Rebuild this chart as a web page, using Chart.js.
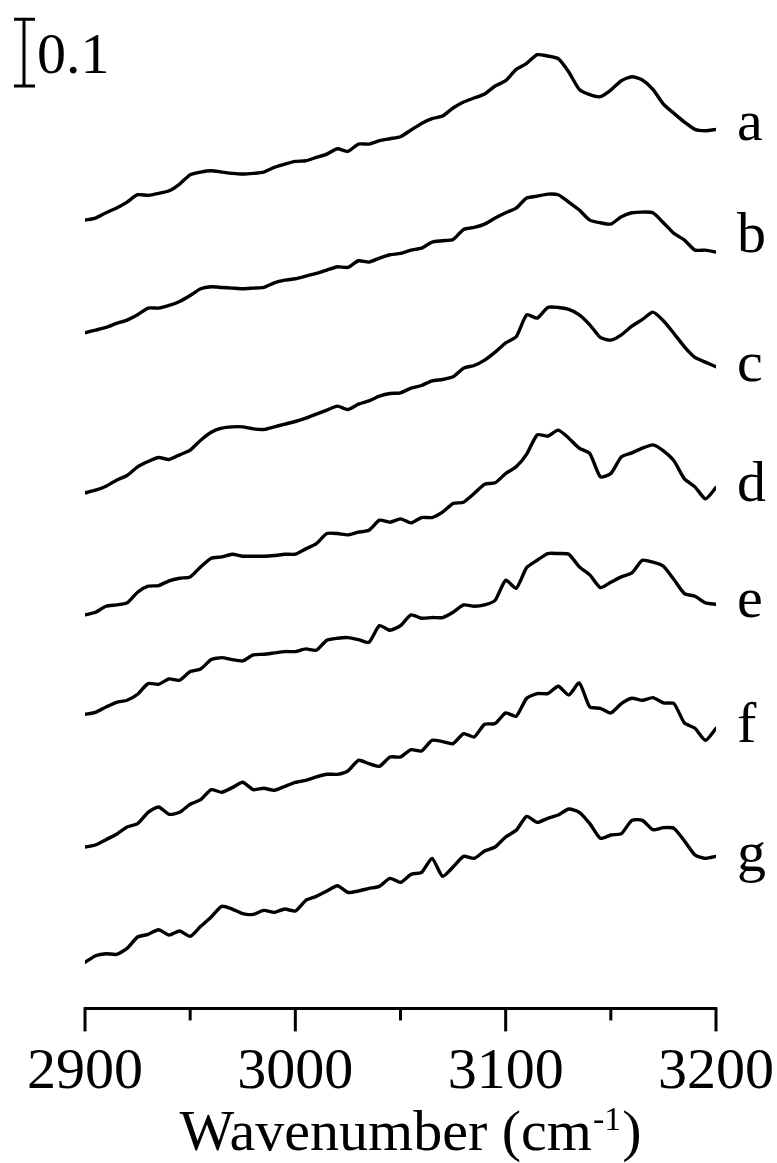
<!DOCTYPE html>
<html>
<head>
<meta charset="utf-8">
<title>Spectres C-H</title>
<script src="https://cdn.jsdelivr.net/npm/chart.js@4.4.1/dist/chart.umd.min.js"></script>
<style>
  html, body { margin: 0; padding: 0; background: #fff; }
  canvas { display: block; }
</style>
</head>
<body>
<canvas id="spectra" width="777" height="1163"></canvas>
<script>
// nombres d'onde (cm-1), un point tous les 5 cm-1
const wavenumbers = [
  2900, 2905, 2910, 2915, 2920, 2925, 2930, 2935, 2940, 2945,
  2950, 2955, 2960, 2965, 2970, 2975, 2980, 2985, 2990, 2995,
  3000, 3005, 3010, 3015, 3020, 3025, 3030, 3035, 3040, 3045,
  3050, 3055, 3060, 3065, 3070, 3075, 3080, 3085, 3090, 3095,
  3100, 3105, 3110, 3115, 3120, 3125, 3130, 3135, 3140, 3145,
  3150, 3155, 3160, 3165, 3170, 3175, 3180, 3185, 3190, 3195,
  3200
];

// absorbance (avec le décalage vertical de chaque spectre)
const specA = [
  1.182, 1.185, 1.193, 1.200, 1.209, 1.220, 1.219, 1.222, 1.226, 1.236,
  1.250, 1.254, 1.256, 1.254, 1.252, 1.251, 1.252, 1.254, 1.261, 1.266,
  1.270, 1.271, 1.276, 1.281, 1.289, 1.285, 1.296, 1.296, 1.301, 1.304,
  1.307, 1.317, 1.327, 1.334, 1.338, 1.350, 1.359, 1.365, 1.371, 1.383,
  1.391, 1.408, 1.417, 1.430, 1.428, 1.424, 1.404, 1.378, 1.370, 1.367,
  1.377, 1.391, 1.397, 1.392, 1.378, 1.356, 1.342, 1.329, 1.318, 1.316,
  1.318
];
const specB = [
  1.013, 1.017, 1.021, 1.027, 1.032, 1.040, 1.050, 1.050, 1.054, 1.060,
  1.069, 1.079, 1.082, 1.081, 1.080, 1.079, 1.080, 1.081, 1.088, 1.092,
  1.094, 1.098, 1.102, 1.107, 1.112, 1.111, 1.121, 1.119, 1.125, 1.130,
  1.132, 1.137, 1.140, 1.149, 1.151, 1.153, 1.168, 1.171, 1.176, 1.185,
  1.193, 1.200, 1.215, 1.218, 1.221, 1.220, 1.209, 1.197, 1.182, 1.178,
  1.176, 1.187, 1.193, 1.194, 1.193, 1.178, 1.162, 1.152, 1.137, 1.137,
  1.134
];
const specC = [
  0.773, 0.777, 0.783, 0.792, 0.799, 0.812, 0.820, 0.826, 0.823, 0.830,
  0.837, 0.852, 0.864, 0.870, 0.872, 0.872, 0.869, 0.868, 0.872, 0.876,
  0.880, 0.885, 0.891, 0.897, 0.903, 0.898, 0.906, 0.911, 0.918, 0.922,
  0.923, 0.930, 0.934, 0.941, 0.943, 0.947, 0.960, 0.964, 0.972, 0.984,
  0.998, 1.007, 1.040, 1.035, 1.051, 1.051, 1.048, 1.040, 1.025, 1.006,
  1.002, 1.010, 1.023, 1.033, 1.044, 1.031, 1.012, 0.992, 0.976, 0.969,
  0.962
];
const specD = [
  0.590, 0.594, 0.603, 0.605, 0.608, 0.624, 0.633, 0.634, 0.641, 0.645,
  0.647, 0.662, 0.675, 0.677, 0.681, 0.678, 0.678, 0.678, 0.679, 0.681,
  0.681, 0.689, 0.697, 0.712, 0.712, 0.710, 0.714, 0.717, 0.732, 0.729,
  0.734, 0.728, 0.736, 0.736, 0.744, 0.757, 0.759, 0.772, 0.786, 0.788,
  0.802, 0.812, 0.831, 0.860, 0.858, 0.867, 0.855, 0.840, 0.832, 0.797,
  0.802, 0.827, 0.833, 0.840, 0.845, 0.836, 0.821, 0.794, 0.782, 0.764,
  0.781
];
const specE = [
  0.441, 0.444, 0.452, 0.459, 0.462, 0.471, 0.487, 0.486, 0.494, 0.492,
  0.505, 0.509, 0.523, 0.526, 0.523, 0.521, 0.530, 0.531, 0.533, 0.535,
  0.535, 0.539, 0.537, 0.552, 0.555, 0.556, 0.553, 0.549, 0.574, 0.567,
  0.574, 0.590, 0.585, 0.586, 0.586, 0.594, 0.605, 0.603, 0.605, 0.612,
  0.642, 0.630, 0.661, 0.672, 0.682, 0.682, 0.681, 0.662, 0.650, 0.631,
  0.639, 0.647, 0.653, 0.672, 0.669, 0.663, 0.643, 0.622, 0.618, 0.608,
  0.606
];
const specF = [
  0.242, 0.245, 0.253, 0.261, 0.272, 0.277, 0.294, 0.302, 0.291, 0.294,
  0.306, 0.313, 0.328, 0.324, 0.331, 0.339, 0.328, 0.330, 0.327, 0.333,
  0.339, 0.342, 0.347, 0.351, 0.351, 0.356, 0.372, 0.367, 0.363, 0.377,
  0.377, 0.388, 0.386, 0.402, 0.400, 0.397, 0.412, 0.407, 0.426, 0.427,
  0.443, 0.438, 0.465, 0.472, 0.472, 0.483, 0.470, 0.488, 0.452, 0.450,
  0.443, 0.457, 0.465, 0.462, 0.466, 0.458, 0.457, 0.428, 0.420, 0.402,
  0.420
];
const specG = [
  0.069, 0.079, 0.082, 0.081, 0.090, 0.107, 0.111, 0.118, 0.110, 0.116,
  0.108, 0.123, 0.137, 0.153, 0.149, 0.142, 0.141, 0.147, 0.144, 0.149,
  0.146, 0.162, 0.168, 0.176, 0.184, 0.174, 0.176, 0.180, 0.183, 0.195,
  0.189, 0.201, 0.204, 0.225, 0.198, 0.212, 0.228, 0.225, 0.236, 0.242,
  0.257, 0.267, 0.288, 0.279, 0.285, 0.290, 0.299, 0.294, 0.277, 0.255,
  0.260, 0.262, 0.282, 0.282, 0.268, 0.271, 0.270, 0.251, 0.230, 0.225,
  0.228
];

const seriesNames = ['a', 'b', 'c', 'd', 'e', 'f', 'g'];
const seriesValues = [specA, specB, specC, specD, specE, specF, specG];

// graduations de l'axe x
const majorTicks = [2900, 3000, 3100, 3200];
const minorTicks = [2950, 3050, 3150];

const scaleBarSize = 0.1;

const FONT = '"Liberation Serif", "Times New Roman", serif';

// ======== DESSIN DES ÉLÉMENTS HORS CHART.JS ========
const decorPlugin = {
    id: 'decor',
    afterDraw(chart) {
        const ctx = chart.ctx;
        const xs = chart.scales.x;
        const ys = chart.scales.y;
        const area = chart.chartArea;
        const axisY = area.bottom;

        ctx.save();
        ctx.strokeStyle = '#000';
        ctx.fillStyle = '#000';
        ctx.lineWidth = 3;

        // petits traits de graduation (vers le bas)
        majorTicks.forEach(v => {
            const px = xs.getPixelForValue(v);
            ctx.beginPath();
            ctx.moveTo(px, axisY - 1);
            ctx.lineTo(px, axisY + 23);
            ctx.stroke();
        });
        minorTicks.forEach(v => {
            const px = xs.getPixelForValue(v);
            ctx.beginPath();
            ctx.moveTo(px, axisY - 1);
            ctx.lineTo(px, axisY + 12);
            ctx.stroke();
        });

        // barre d'échelle 0.1
        const barTop = ys.getPixelForValue(1.483);
        const barBottom = ys.getPixelForValue(1.483 - scaleBarSize);
        const barX = 24;
        ctx.beginPath();
        ctx.moveTo(barX, barTop);
        ctx.lineTo(barX, barBottom);
        ctx.moveTo(barX - 10, barTop);
        ctx.lineTo(barX + 11, barTop);
        ctx.moveTo(barX - 10, barBottom);
        ctx.lineTo(barX + 11, barBottom);
        ctx.stroke();

        ctx.font = '58px ' + FONT;
        ctx.textBaseline = 'alphabetic';
        ctx.textAlign = 'left';
        ctx.fillText(String(scaleBarSize), 37, 73);

        // lettres à droite de chaque spectre
        const nudge = [11, 0, 14, 13, 13, 14, 15];
        chart.data.datasets.forEach((ds, i) => {
            const meta = chart.getDatasetMeta(i);
            const last = meta.data[meta.data.length - 1];
            ctx.fillText(seriesNames[i], 737, last.y + nudge[i]);
        });

        // titre de l'axe avec exposant
        const main = 'Wavenumber (cm';
        const sup = '-1';
        const close = ')';
        ctx.font = '58px ' + FONT;
        const wMain = ctx.measureText(main).width;
        const wClose = ctx.measureText(close).width;
        ctx.font = '34px ' + FONT;
        const wSup = ctx.measureText(sup).width;
        const total = wMain + wSup + 2 + wClose;
        const cx = (area.left + area.right) / 2 + 10;
        let x = cx - total / 2;
        const baseY = 1150;
        ctx.font = '58px ' + FONT;
        ctx.fillText(main, x, baseY);
        x += wMain + 1;
        ctx.font = '34px ' + FONT;
        ctx.fillText(sup, x, baseY - 20);
        x += wSup + 1;
        ctx.font = '58px ' + FONT;
        ctx.fillText(close, x, baseY);

        ctx.restore();
    }
};

const datasets = seriesValues.map((vals, i) => ({
    label: seriesNames[i],
    data: wavenumbers.map((w, k) => ({ x: w, y: vals[k] })),
    borderColor: '#000',
    borderWidth: 3.4,
    pointRadius: 0,
    tension: 0.2,
    borderJoinStyle: 'round',
    borderCapStyle: 'round',
    fill: false
}));

new Chart(document.getElementById('spectra'), {
    type: 'line',
    data: { datasets: datasets },
    options: {
        responsive: false,
        animation: false,
        devicePixelRatio: 1,
        layout: {
            padding: { left: 85, right: 61, top: 8, bottom: 25 }
        },
        plugins: {
            legend: { display: false },
            tooltip: { enabled: false }
        },
        scales: {
            x: {
                type: 'linear',
                min: 2900,
                max: 3200,
                grid: { display: false, drawTicks: false },
                border: { display: true, color: '#000', width: 3 },
                ticks: {
                    stepSize: 100,
                    color: '#000',
                    padding: 30,
                    maxRotation: 0,
                    font: { family: FONT, size: 58 },
                    callback: v => String(v)
                },
                // pas de marge automatique pour les étiquettes extrêmes
                afterFit: scale => {
                    scale.paddingLeft = 0;
                    scale.paddingRight = 0;
                }
            },
            y: {
                display: false,
                min: 0,
                max: 1.5
            }
        }
    },
    plugins: [decorPlugin]
});
</script>
</body>
</html>
